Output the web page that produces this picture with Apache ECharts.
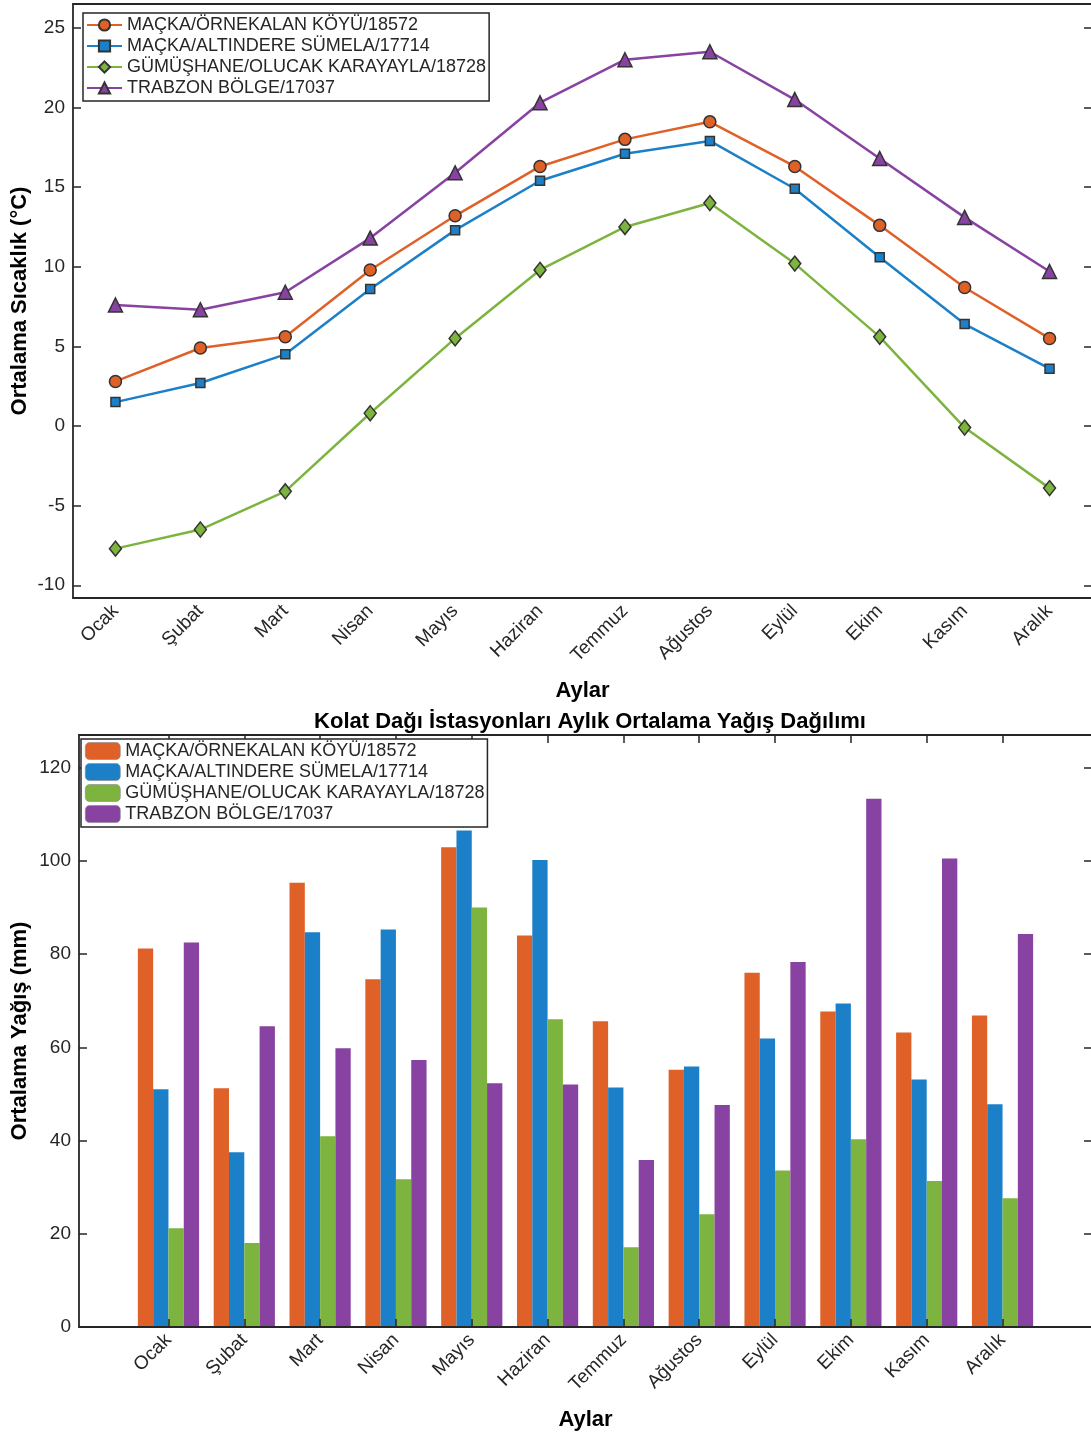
<!DOCTYPE html>
<html>
<head>
<meta charset="utf-8">
<title>Kolat Dağı İstasyonları</title>
<script src="https://cdn.jsdelivr.net/npm/echarts@6/dist/echarts.min.js"></script>
<style>body { margin: 0; background: #fff; }</style>
</head>
<body>
<div id="temp-chart" style="width: 1091px; height: 706px;"></div>
<div id="rain-chart" style="width: 1091px; height: 728px;"></div>
<script>
    // aylar ve istasyonlar
    var months = ['Ocak', 'Şubat', 'Mart', 'Nisan', 'Mayıs', 'Haziran', 'Temmuz', 'Ağustos', 'Eylül', 'Ekim', 'Kasım', 'Aralık'];
    var stations = ['MAÇKA/ÖRNEKALAN KÖYÜ/18572', 'MAÇKA/ALTINDERE SÜMELA/17714', 'GÜMÜŞHANE/OLUCAK KARAYAYLA/18728', 'TRABZON BÖLGE/17037'];

    // ortalama sıcaklık (°C)
    var tempOrnekalan = [2.8, 4.9, 5.6, 9.8, 13.2, 16.3, 18.0, 19.1, 16.3, 12.6, 8.7, 5.5];
    var tempAltindere = [1.5, 2.7, 4.5, 8.6, 12.3, 15.4, 17.1, 17.9, 14.9, 10.6, 6.4, 3.6];
    var tempOlucak = [-7.7, -6.5, -4.1, 0.8, 5.5, 9.8, 12.5, 14.0, 10.2, 5.6, -0.1, -3.9];
    var tempTrabzon = [7.6, 7.3, 8.4, 11.8, 15.9, 20.3, 23.0, 23.5, 20.5, 16.8, 13.1, 9.7];

    // ortalama yağış (mm)
    var rainOrnekalan = [81.2, 51.2, 95.3, 74.6, 102.9, 84.0, 65.6, 55.2, 76.0, 67.7, 63.2, 66.8];
    var rainAltindere = [51.0, 37.5, 84.7, 85.3, 106.5, 100.2, 51.4, 55.9, 61.9, 69.4, 53.1, 47.8];
    var rainOlucak = [21.2, 18.0, 40.9, 31.7, 90.0, 66.0, 17.1, 24.2, 33.6, 40.3, 31.3, 27.6];
    var rainTrabzon = [82.5, 64.5, 59.8, 57.3, 52.3, 52.0, 35.8, 47.6, 78.3, 113.3, 100.5, 84.3];

    var tempTicks = [-10, -5, 0, 5, 10, 15, 20, 25];
    var rainTicks = [0, 20, 40, 60, 80, 100, 120];
    var monthPos = [1, 2, 3, 4, 5, 6, 7, 8, 9, 10, 11, 12];

    var colors = ['#DF6128', '#1C80C8', '#7DB43F', '#8842A2'];
    var ink = '#262626';
    var font = 'Liberation Sans, Arial, sans-serif';

    var lineAxis = { onZero: false, lineStyle: { color: ink, width: 1.8 } };
    var tickStyle = { color: ink, width: 1.5 };
    var nameStyle = { fontSize: 22, fontWeight: 'bold', color: '#000', fontFamily: font };

    // ---------- sıcaklık grafiği ----------
    var symbols = ['circle', 'rect', 'diamond', 'triangle'];
    var symbolSizes = [12, 9, [12, 15], 14];
    var tempData = [tempOrnekalan, tempAltindere, tempOlucak, tempTrabzon];

    var option1 = {
        textStyle: { fontFamily: font },
        animation: false,
        grid: { left: 73, top: 4, width: 1019, height: 594, outerBoundsMode: 'none' },
        legend: {
            orient: 'vertical', left: 83, top: 13,
            padding: [2, 3, 3, 3], itemWidth: 35, itemHeight: 14, itemGap: 1,
            backgroundColor: '#fff', borderColor: ink, borderWidth: 1.5,
            textStyle: { fontSize: 18, lineHeight: 20, color: ink, fontFamily: font },
            data: stations
        },
        xAxis: [{
            type: 'category', data: months, boundaryGap: true, z: 5,
            axisLine: lineAxis,
            axisTick: { inside: true, alignWithLabel: true, length: 8, lineStyle: tickStyle },
            axisLabel: { rotate: 45, fontSize: 19, color: ink, margin: 10, interval: 0 },
            name: 'Aylar', nameLocation: 'middle', nameGap: 82,
            nameTextStyle: nameStyle
        }, {
            type: 'category', data: months, boundaryGap: true, position: 'top',
            axisLine: lineAxis,
            axisTick: { inside: true, alignWithLabel: true, length: 8, lineStyle: tickStyle },
            axisLabel: { show: false }
        }],
        yAxis: [{
            type: 'value', min: -10.8, max: 26.5,
            axisLine: { show: true, onZero: false, lineStyle: { color: ink, width: 1.8 } },
            axisTick: { show: true, inside: true, length: 8, customValues: tempTicks, lineStyle: tickStyle },
            axisLabel: { fontSize: 19, color: ink, margin: 8, customValues: tempTicks },
            splitLine: { show: false },
            name: 'Ortalama Sıcaklık (°C)', nameLocation: 'middle', nameGap: 42, nameRotate: 90,
            nameMoveOverlap: false,
            nameTextStyle: nameStyle
        }, {
            type: 'value', min: -10.8, max: 26.5, position: 'right',
            axisLine: { show: true, onZero: false, lineStyle: { color: ink, width: 1.8 } },
            axisTick: { show: true, inside: true, length: 8, customValues: tempTicks, lineStyle: tickStyle },
            axisLabel: { show: false },
            splitLine: { show: false }
        }],
        series: tempData.map(function (d, i) {
            return {
                name: stations[i],
                type: 'line',
                data: d,
                symbol: symbols[i],
                symbolSize: symbolSizes[i],
                lineStyle: { color: colors[i], width: 2.5 },
                itemStyle: { color: colors[i], borderColor: '#333', borderWidth: 1.5 }
            };
        })
    };

    // ---------- yağış grafiği ----------
    var rainData = [rainOrnekalan, rainAltindere, rainOlucak, rainTrabzon];

    var option2 = {
        textStyle: { fontFamily: font },
        animation: false,
        title: {
            text: 'Kolat Dağı İstasyonları Aylık Ortalama Yağış Dağılımı',
            left: 585, top: 0, textAlign: 'center',
            textStyle: { fontSize: 22, fontWeight: 'bold', color: '#000', fontFamily: font }
        },
        grid: { left: 79, top: 29, width: 1013, height: 592, outerBoundsMode: 'none' },
        legend: {
            orient: 'vertical', left: 81, top: 33,
            padding: [2, 3, 3, 4], itemWidth: 35, itemHeight: 17, itemGap: 1,
            backgroundColor: '#fff', borderColor: ink, borderWidth: 1.5,
            itemStyle: { borderWidth: 0.6, borderColor: '#888' },
            textStyle: { fontSize: 18, lineHeight: 20, color: ink, fontFamily: font },
            data: stations
        },
        xAxis: [{
            type: 'value', min: -0.18, max: 13.18, z: 5,
            axisLine: lineAxis,
            axisTick: { show: true, inside: true, length: 8, customValues: monthPos, lineStyle: tickStyle },
            axisLabel: {
                rotate: 45, fontSize: 19, color: ink, margin: 10, customValues: monthPos,
                formatter: function (v) { return months[Math.round(v) - 1]; }
            },
            splitLine: { show: false },
            name: 'Aylar', nameLocation: 'middle', nameGap: 82,
            nameTextStyle: nameStyle
        }, {
            type: 'value', min: -0.18, max: 13.18, position: 'top',
            axisLine: lineAxis,
            axisTick: { show: true, inside: true, length: 8, customValues: monthPos, lineStyle: tickStyle },
            axisLabel: { show: false },
            splitLine: { show: false }
        }],
        yAxis: [{
            type: 'value', min: 0, max: 127,
            axisLine: { show: true, onZero: false, lineStyle: { color: ink, width: 1.8 } },
            axisTick: { show: true, inside: true, length: 8, customValues: rainTicks, lineStyle: tickStyle },
            axisLabel: { fontSize: 19, color: ink, margin: 8, customValues: rainTicks },
            splitLine: { show: false },
            name: 'Ortalama Yağış (mm)', nameLocation: 'middle', nameGap: 48, nameRotate: 90,
            nameMoveOverlap: false,
            nameTextStyle: nameStyle
        }, {
            type: 'value', min: 0, max: 127, position: 'right',
            axisLine: { show: true, onZero: false, lineStyle: { color: ink, width: 1.8 } },
            axisTick: { show: true, inside: true, length: 8, customValues: rainTicks, lineStyle: tickStyle },
            axisLabel: { show: false },
            splitLine: { show: false }
        }],
        series: rainData.map(function (d, i) {
            return {
                name: stations[i],
                type: 'bar',
                barWidth: 15.3,
                barGap: '0%',
                itemStyle: { color: colors[i] },
                data: d.map(function (v, k) { return [monthPos[k], v]; })
            };
        })
    };

    var chart1 = echarts.init(document.getElementById('temp-chart'));
    chart1.setOption(option1);
    var chart2 = echarts.init(document.getElementById('rain-chart'));
    chart2.setOption(option2);
</script>
</body>
</html>
